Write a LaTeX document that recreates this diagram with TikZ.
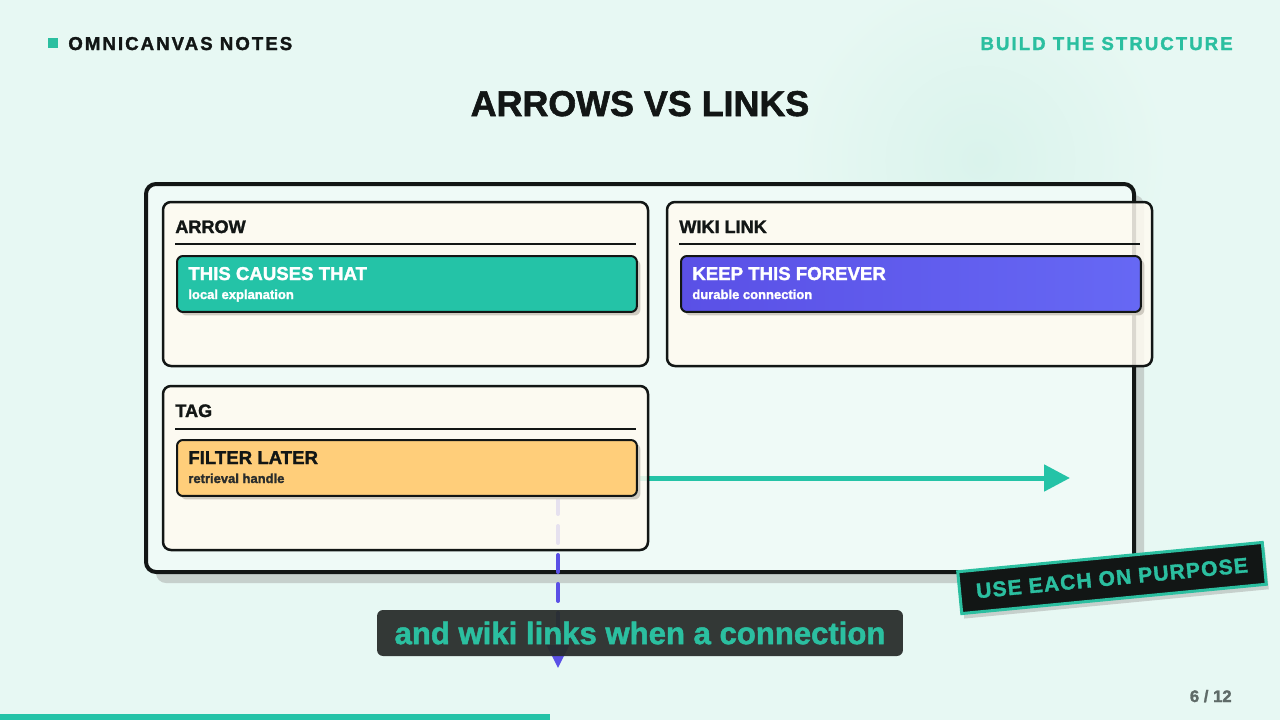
\documentclass[tikz,border=0pt]{standalone}
\usepackage{fontspec}
\setmainfont{Liberation Sans}[BoldFeatures={FakeBold=1.6}]
\newfontfamily\spacedfont{Liberation Sans}[LetterSpace=11, BoldFeatures={FakeBold=1.6}]
\newfontfamily\stickerfont{Liberation Sans}[LetterSpace=5.5, BoldFeatures={FakeBold=1.6}]
\usetikzlibrary{arrows.meta,shadows}

\definecolor{bgc}{HTML}{E7F8F3}
\definecolor{glow}{HTML}{DAF3EC}
\definecolor{framefill}{HTML}{EFFAF7}
\definecolor{frameshadow}{HTML}{C6D0CC}
\definecolor{cream}{HTML}{FFFBF1}
\definecolor{ink}{HTML}{121615}
\definecolor{teal}{HTML}{24C3A7}
\definecolor{tealtext}{HTML}{2BBFA0}
\definecolor{wikiA}{HTML}{5A50E6}
\definecolor{wikiB}{HTML}{6668F4}
\definecolor{tagfill}{HTML}{FFCE7A}
\definecolor{barshadow}{HTML}{CFCBC1}
\definecolor{capbox}{HTML}{282D2B}
\definecolor{pagegrey}{HTML}{5F6B68}

\pgfdeclarelayer{back}
\pgfdeclarelayer{mid}
\pgfsetlayers{back,mid,main}

\tikzset{
  txt/.style={inner sep=0pt},
  card/.style={draw=ink, line width=0.05cm, rounded corners=0.16cm, fill=cream, fill opacity=0.85},
  cardrule/.style={draw=ink, line width=0.03cm},
  cardhead/.style={txt, anchor=base west, text=ink, font=\fontsize{10.3}{12}\selectfont\bfseries},
  bar/.style={draw=ink, line width=0.04cm, rounded corners=0.12cm, anchor=north west,
    inner sep=0pt, minimum width=9.2cm, minimum height=1.12cm,
    drop shadow={shadow xshift=0.07cm, shadow yshift=-0.07cm, fill=barshadow, opacity=1}},
  bartitle/.style={txt, anchor=base west, font=\fontsize{10.6}{12}\selectfont\bfseries},
  barsub/.style={txt, anchor=base west, font=\fontsize{7.4}{9}\selectfont\bfseries},
  arrowlink/.style={draw=teal, line width=0.1cm, -{Triangle[length=0.52cm,width=0.52cm]}},
  dashlink/.style={draw=wikiA, line width=0.08cm, line cap=round, dash pattern=on 0.34cm off 0.24cm,
    -{Triangle[length=0.46cm,width=0.44cm]}},
}

\begin{document}
\begin{tikzpicture}[x=0.02cm, y=-0.02cm]
\useasboundingbox (0,0) rectangle (1280,720);

% backdrop and canvas frame
\begin{pgfonlayer}{back}
  \fill[bgc] (0,0) rectangle (1280,720);
  \shade[inner color=glow, outer color=bgc] (980,160) circle (3.8cm);
  \fill[teal] (0,714) rectangle (550,720);
  \draw[draw=ink, line width=0.08cm, rounded corners=0.2cm, fill=framefill,
    drop shadow={shadow xshift=0.2cm, shadow yshift=-0.22cm, fill=frameshadow, opacity=1}]
    (146,184) rectangle (1134,572);
\end{pgfonlayer}

% header
\fill[tealtext] (48,38) rectangle (58,48);
\node[txt, anchor=base west, text=ink, font=\spacedfont\fontsize{10.6}{12}\selectfont\bfseries]
  (brand) at (68,50) {OMNICANVAS NOTES};
\node[txt, anchor=base east, text=tealtext, font=\spacedfont\fontsize{10.6}{12}\selectfont\bfseries]
  (section) at (1233,50) {BUILD THE STRUCTURE};
\node[txt, anchor=base, text=ink, font=\fontsize{20.4}{24}\selectfont\bfseries]
  (title) at (640,116) {ARROWS VS LINKS};

% cards
\draw[card] (163,202) rectangle (648,366);
\draw[card] (667,202) rectangle (1152,366);
\draw[card] (163,386) rectangle (648,550);

\node[cardhead] (arrowhead) at (175,233) {ARROW};
\node[cardhead] (wikihead) at (679,233) {WIKI LINK};
\node[cardhead] (taghead) at (175,417) {TAG};
\draw[cardrule] (175,244) -- (636,244);
\draw[cardrule] (679,244) -- (1140,244);
\draw[cardrule] (175,429) -- (636,429);

% bars
\node[bar, fill=teal] (arrowbar) at (176,255) {};
\node[bar, left color=wikiA, right color=wikiB] (wikibar) at (680,255) {};
\node[bar, fill=tagfill] (tagbar) at (176,439) {};

\node[bartitle, text=white] (arrowtitle) at (188,280) {THIS CAUSES THAT};
\node[barsub, text=white] (arrowsub) at (188,299) {local explanation};
\node[bartitle, text=white] (wikititle) at (692,280) {KEEP THIS FOREVER};
\node[barsub, text=white] (wikisub) at (692,299) {durable connection};
\node[bartitle, text=ink] (tagtitle) at (188,464) {FILTER LATER};
\node[barsub, text=ink!90] (tagsub) at (188,483) {retrieval handle};

% connectors, under the cards
\coordinate (linktip) at (1070,478);
\coordinate (dashtip) at (558,668);
\begin{pgfonlayer}{mid}
  \draw[arrowlink] (tagbar.east |- linktip) -- (linktip);
  \draw[dashlink] (tagbar.south -| dashtip) -- (dashtip);
\end{pgfonlayer}

% caption and sticker
\node[txt, fill=capbox, fill opacity=0.94, text opacity=1, rounded corners=0.12cm,
  minimum width=10.52cm, minimum height=0.92cm, text=tealtext,
  font=\fontsize{17.7}{20}\selectfont\bfseries] (caption) at (640,633) {and wiki links when a connection};
\node[txt, fill=ink, draw=tealtext, line width=0.06cm, rotate=5.5,
  minimum width=6.12cm, minimum height=0.84cm, text=tealtext,
  font=\stickerfont\fontsize{12}{14}\selectfont\bfseries,
  drop shadow={shadow xshift=0.05cm, shadow yshift=-0.1cm, fill=frameshadow, opacity=1}]
  (sticker) at (1112,578) {USE EACH ON PURPOSE};

% page number
\node[txt, anchor=base east, text=pagegrey, font=\fontsize{9.5}{11}\selectfont\bfseries]
  (page) at (1232,702) {6 / 12};
\end{tikzpicture}
\end{document}
